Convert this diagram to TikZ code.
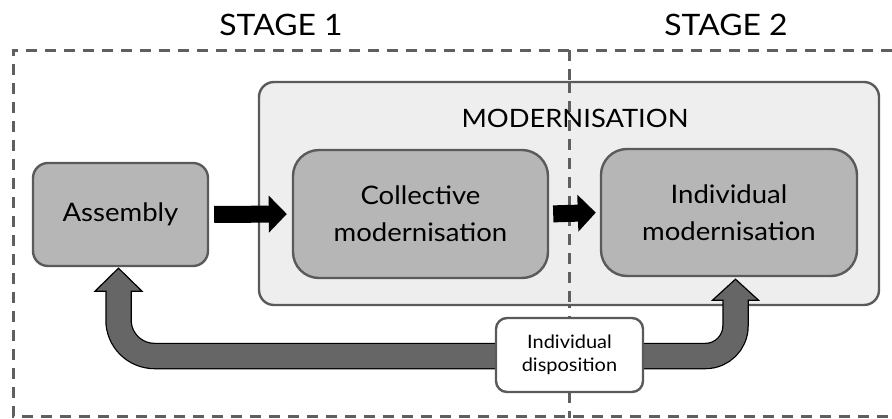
\documentclass[tikz,border=0pt]{standalone}
\usepackage{fontspec}
\setmainfont{Lato}[FakeStretch=1.08]
\usetikzlibrary{arrows.meta,calc}
\definecolor{boxgray}{HTML}{B6B6B6}
\definecolor{boxline}{HTML}{5A5A5A}
\definecolor{modfill}{HTML}{EEEEEE}
\definecolor{dashgray}{HTML}{5F5F5F}
\definecolor{fbgray}{HTML}{666666}
\tikzset{
  x=1pt, y=-1pt,
  stagebox/.style={draw=boxline, line width=2.4pt, fill=boxgray, rounded corners=#1,
    align=center, font=\fontsize{25.5}{37}\selectfont, inner sep=0pt},
  stagebox/.default=22pt,
  dispbox/.style={draw=boxline, line width=2.4pt, fill=white, rounded corners=11pt,
    align=center, font=\fontsize{18.5}{23}\selectfont, inner sep=0pt,
    minimum width=147pt, minimum height=74pt},
  framedash/.style={draw=dashgray, line width=3pt, dash pattern=on 11pt off 8pt},
  blockarrow/.style={line width=17pt, -{Triangle[length=18pt,width=36pt]}, shorten <=5pt, shorten >=5pt},
  fbout/.style={line width=26.5pt, black},
  fbin/.style={line width=24pt, fbgray},
  fbhead/.style={fill=fbgray, draw=black, line width=1.2pt, line join=miter},
  titletext/.style={font=\fontsize{29.5}{32}\selectfont, inner sep=0pt},
}
\begin{document}
\begin{tikzpicture}
\useasboundingbox (0,0) rectangle (892,418);
% outer dashed frame and divider
\draw[framedash] (892,50) -- (13,50) -- (13,416) -- (892,416);
\draw[framedash] (569,50) -- (569,418);
\node[titletext] (s1) at (281,25) {STAGE 1};
\node[titletext] (s2) at (726,25) {STAGE 2};
% modernisation frame
\node[draw=boxline, line width=2.4pt, fill=modfill, rounded corners=15pt,
  minimum width=620pt, minimum height=223pt, inner sep=0pt] (modern) at (569,193.5) {};
\draw[framedash] (569,82) -- (569,305);
\node[font=\fontsize{25.3}{28}\selectfont, inner sep=0pt] (modlabel) at (575,118) {MODERNISATION};
% boxes
\node[stagebox=15pt, minimum width=175pt, minimum height=103pt] (assembly) at (120.5,214.5) {Assembly};
\node[stagebox=26pt, minimum width=255pt, minimum height=128pt] (collective) at (420.5,214) {Collective\\modernisation};
\node[stagebox=26pt, minimum width=256pt, minimum height=127pt] (individual) at (729,212.5) {Individual\\modernisation};
% block arrows
\draw[blockarrow] (assembly.east) -- (collective.west);
\draw[blockarrow, shorten <=4pt, shorten >=4pt] (collective.east) -- (individual.west);
% feedback arrow
\coordinate (disp0) at (569.5,356);
\coordinate (lb) at ([xshift=-2pt,yshift=-24pt]assembly.south);
\coordinate (rb) at ([xshift=6.5pt,yshift=-23pt]individual.south);
\draw[fbout] (lb) [rounded corners=36pt] |- (disp0) [rounded corners=30pt] -| (rb);
\filldraw[fbhead] ([xshift=-2pt,yshift=-1pt]assembly.south) -- ([xshift=-23.5pt]lb) -- ([xshift=23.5pt]lb) -- cycle;
\filldraw[fbhead] ([xshift=6.5pt,yshift=-2pt]individual.south) -- ([xshift=-23pt]rb) -- ([xshift=23pt]rb) -- cycle;
\draw[fbin] ([yshift=1pt]lb) [rounded corners=36pt] |- (disp0) [rounded corners=30pt] -| ([yshift=1pt]rb);
\node[dispbox] (disp) at (569.5,355) {Individual\\disposition};
\end{tikzpicture}
\end{document}
